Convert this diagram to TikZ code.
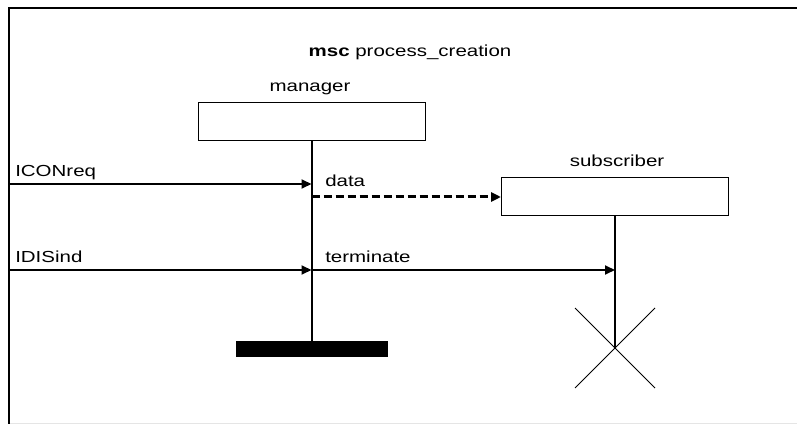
\documentclass[tikz,border=0pt]{standalone}
\usepackage{fontspec}
\setmainfont{Liberation Sans}[FakeStretch=1.28]
\usepackage{tikz}
\usetikzlibrary{arrows.meta}

\tikzset{
  inst/.style={draw, line width=0.75pt, minimum width=170.25pt, minimum height=28.5pt, inner sep=0pt},
  msg/.style={line width=1.5pt, -{Triangle[length=7.5pt,width=6.75pt]}},
  lifeline/.style={line width=1.5pt},
  lbl/.style={anchor=base west, inner sep=0pt},
}

\begin{document}
\begin{tikzpicture}[x=0.75pt,y=0.75pt,yscale=-1,xscale=1,font=\fontsize{12}{14}\selectfont]
\useasboundingbox (0,0) rectangle (797,424);

%Frame
\draw [line width=1.5pt] (797,8) -- (9,8) -- (9,424) ;
\draw [black!10, line width=0.75pt] (10,423) -- (797,423) ;

% Text Node
\node [anchor=base, inner sep=0pt] (title) at (410,57) {\textbf{msc} process\_creation};

%Instances
\node [inst] (mgr) at (311.5,122) {};
\node [anchor=base, inner sep=0pt] (mgrname) at (310,92) {manager};
\node [inst] (sub) at (615,197) {};
\node [anchor=base, inner sep=0pt] (subname) at (617,167) {subscriber};

%Lifelines
\coordinate (mgrend) at (311.5,341);
\coordinate (subend) at (615,348);
\draw [lifeline] (mgr.south) -- (mgrend) ;
\draw [lifeline] (sub.south) -- (subend) ;

%Stop
\node [fill, draw=none, minimum width=114pt, minimum height=12pt, inner sep=0pt, anchor=north] (stop) at (mgrend) {};
%Cross
\draw [line width=0.75pt] (subend) -- ++(-40,-40) (subend) -- ++(40,40) ;
\draw [line width=0.75pt] (subend) -- ++(40,-40) (subend) -- ++(-40,40) ;

%Messages
\coordinate (envA) at (9,184);
\coordinate (envB) at (9,270);
\draw [msg] (envA) -- (mgr.south |- envA) ;
\draw [msg, dash pattern={on 6pt off 3pt}, line width=2.25pt] (mgr.south |- sub.west) -- (sub.west) ;
\draw [msg] (envB) -- (mgr.south |- envB) ;
\draw [msg] (mgr.south |- envB) -- (sub.south |- envB) ;

% Text Node
\node [lbl] (iconreq) at (15,177) {ICONreq};
% Text Node
\node [lbl] (data) at (325,187) {data};
% Text Node
\node [lbl] (idisind) at (15,263) {IDISind};
% Text Node
\node [lbl] (terminate) at (325,263) {terminate};

\end{tikzpicture}
\end{document}
